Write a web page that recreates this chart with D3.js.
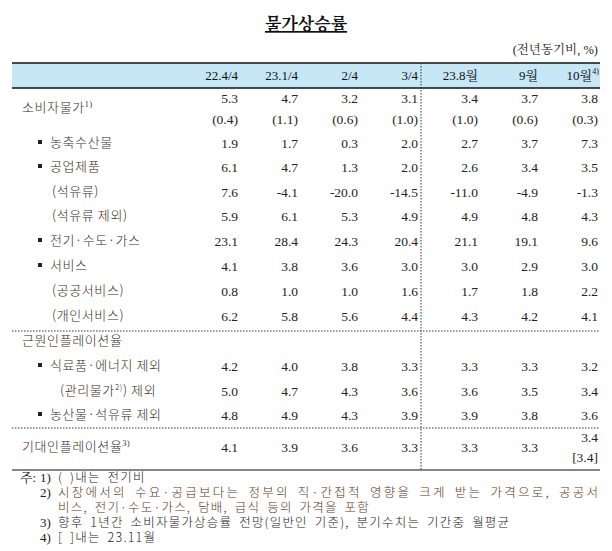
<!DOCTYPE html><html><head><meta charset="utf-8">
<script src="https://cdn.jsdelivr.net/npm/d3@7"></script>
<style>body{margin:0;background:#fff}</style></head><body>
<script>
const columns=["22.4/4","23.1/4","2/4","3/4","23.8월","9월","10월"];
const rowLabels=["소비자물가","","농축수산물","공업제품","(석유류)","(석유류  제외)","전기·수도·가스","서비스","(공공서비스)","(개인서비스)","근원인플레이션율","식료품·에너지 제외","(관리물가) 제외","농산물·석유류 제외","기대인플레이션율"];
const rowIndent=[0,0,1,1,2,2,1,1,2,2,0,1,2,1,0];
const rowSup=["1)","","","","","","","","","","","","2)","","3)"];
const vals=[
["5.3","4.7","3.2","3.1","3.4","3.7","3.8"],
["(0.4)","(1.1)","(0.6)","(1.0)","(1.0)","(0.6)","(0.3)"],
["1.9","1.7","0.3","2.0","2.7","3.7","7.3"],
["6.1","4.7","1.3","2.0","2.6","3.4","3.5"],
["7.6","-4.1","-20.0","-14.5","-11.0","-4.9","-1.3"],
["5.9","6.1","5.3","4.9","4.9","4.8","4.3"],
["23.1","28.4","24.3","20.4","21.1","19.1","9.6"],
["4.1","3.8","3.6","3.0","3.0","2.9","3.0"],
["0.8","1.0","1.0","1.6","1.7","1.8","2.2"],
["6.2","5.8","5.6","4.4","4.3","4.2","4.1"],
["","","","","","",""],
["4.2","4.0","3.8","3.3","3.3","3.3","3.2"],
["5.0","4.7","4.3","3.6","3.6","3.5","3.4"],
["4.8","4.9","4.3","3.9","3.9","3.8","3.6"],
["4.1","3.9","3.6","3.3","3.3","3.3","3.4"]];
const rowY=[98,119,143,167,192,216,241,266,291,316,341,366,391,415,447];
const notes=[["1)","(   )내는 전기비"],["2)","시장에서의 수요·공급보다는 정부의 직·간접적 영향을 크게 받는 가격으로, 공공서"],["","비스, 전기·수도·가스, 담배, 급식 등의 가격을 포함"],["3)","향후 1년간 소비자물가상승률 전망(일반인 기준), 분기수치는 기간중 월평균"],["4)","[ ]내는 23.11월"]];
const W=612,H=551,F="'Liberation Serif','Noto Serif CJK KR','Noto Sans CJK KR',serif";
const svg=d3.select("body").append("svg").attr("width",W).attr("height",H).style("font-family",F);
const x=d3.scalePoint().domain(columns).range([238,598]);
const y=d3.scaleOrdinal().domain(d3.range(rowY.length)).range(rowY);
const ink="#222",lab="#3a2e22";
svg.append("text").attr("x",306).attr("y",30).attr("text-anchor","middle").attr("font-size",17).attr("font-weight","bold").attr("fill","#111").attr("text-decoration","underline").text("물가상승률");
svg.append("text").attr("x",598).attr("y",54).attr("text-anchor","end").attr("font-size",12.5).attr("fill",ink).text("(전년동기비, %)");
svg.append("rect").attr("x",12).attr("y",63).attr("width",588).attr("height",25).attr("fill","#c6e7f6");
[63,88].forEach(v=>svg.append("line").attr("x1",12).attr("x2",600).attr("y1",v).attr("y2",v).attr("stroke","#111").attr("stroke-width",1.6));
svg.append("line").attr("x1",421).attr("x2",421).attr("y1",63).attr("y2",470).attr("stroke","#333").attr("stroke-dasharray","1.5,1.5");
[331,428].forEach(v=>svg.append("line").attr("x1",12).attr("x2",600).attr("y1",v).attr("y2",v).attr("stroke","#333").attr("stroke-dasharray","1.5,1.5"));
svg.append("line").attr("x1",12).attr("x2",600).attr("y1",470).attr("y2",470).attr("stroke","#111").attr("stroke-width",1.2);
columns.forEach((c,i)=>{svg.append("text").attr("x",x(c)-(i==6?6:0)).attr("y",80).attr("text-anchor","end").attr("font-size",13).attr("fill","#111").text(c);});
svg.append("text").attr("x",599).attr("y",74).attr("text-anchor","end").attr("font-size",8).attr("fill","#111").text("4)");
rowLabels.forEach((l,i)=>{ if(!l)return;
  let ly=i==0?112:y(i)+4; const ind=rowIndent[i];
  let lx=ind==0?22:(ind==1?50:(i==12?60:52));
  if(ind==1) svg.append("rect").attr("x",38).attr("y",ly-7).attr("width",4).attr("height",4).attr("fill","#222");
  const t=svg.append("text").attr("x",lx).attr("y",ly).attr("font-size",13).attr("fill",lab).attr("font-family","'Noto Sans CJK KR',sans-serif").attr("font-weight",300).attr("letter-spacing",0.6);
  if(i==12){t.append("tspan").text("(관리물가");t.append("tspan").attr("font-size",8).attr("dy",-5).text("2)");t.append("tspan").attr("dy",5).text(") 제외");}
  else{t.append("tspan").text(l); if(rowSup[i]) t.append("tspan").attr("font-size",8).attr("dy",-5).attr("font-family",F).text(rowSup[i]);}
});
vals.forEach((r,i)=>r.forEach((v,j)=>{ if(!v)return;
  let vy=(i==14&&j==6)?442:y(i)+5;
  svg.append("text").attr("x",x(columns[j])).attr("y",vy).attr("text-anchor","end").attr("font-size",13.5).attr("fill",ink).text(v);}));
svg.append("text").attr("x",x(columns[6])).attr("y",462).attr("text-anchor","end").attr("font-size",13.5).attr("fill",ink).text("[3.4]");
const ny=[482,497,512,527,542];
const nlen=[0,540,0,0,0];
svg.append("text").attr("x",20).attr("y",ny[0]).attr("font-size",13).attr("fill",ink).text("주:");
notes.forEach((n,i)=>{
  svg.append("text").attr("x",40).attr("y",ny[i]).attr("font-size",13).attr("fill",ink).text(n[0]);
  const t=svg.append("text").attr("x",58).attr("y",ny[i]).attr("font-size",12.5).attr("fill",i==1||i==2?"#5a3a18":ink).attr("font-family","'Noto Sans CJK KR',sans-serif").attr("font-weight",300).attr("letter-spacing",1.2).attr("word-spacing",3).text(n[1]);
  if(nlen[i]) t.attr("textLength",nlen[i]).attr("letter-spacing",null);
});
</script></body></html>
